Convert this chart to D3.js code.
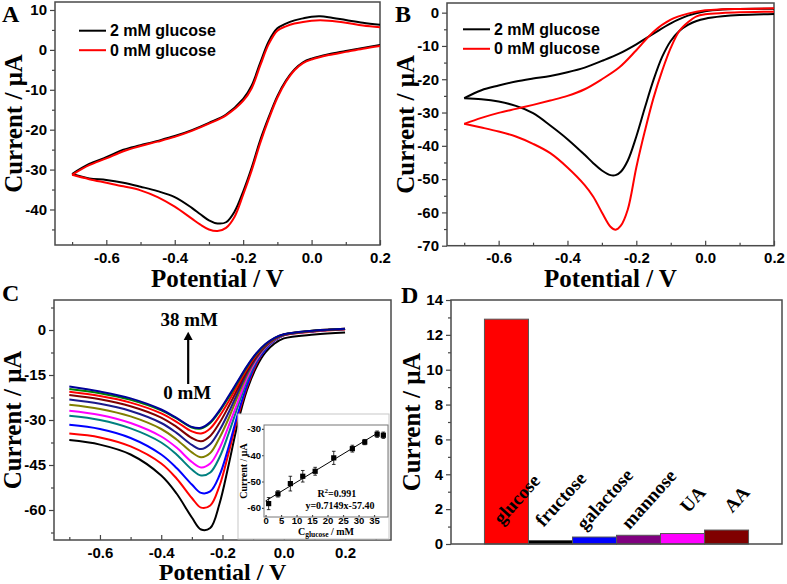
<!DOCTYPE html>
<html>
<head>
<meta charset="utf-8">
<script src="https://cdn.jsdelivr.net/npm/d3@7"></script>
<style>
body { margin: 0; background: #fff; }
svg { display: block; }
.tick text { font: bold 15px "Liberation Sans", Arial, sans-serif; fill: #000; }
.tick line { stroke: #444; stroke-width: 1.2; }
.ttl { font: bold 25px "Liberation Serif", "Times New Roman", serif; }
.letter { font: bold 24px "Liberation Serif", "Times New Roman", serif; }
.leg { font: bold 16px "Liberation Sans", Arial, sans-serif; }
.ann { font: bold 19px "Liberation Serif", "Times New Roman", serif; }
.bar-lab { font: bold 19px "Liberation Serif", "Times New Roman", serif; }
.inset .tick text { font: bold 9.5px "Liberation Sans", Arial, sans-serif; }
.small { font: bold 10px "Liberation Serif", "Times New Roman", serif; }
</style>
</head>
<body>
<svg id="fig" width="787" height="584"></svg>
<script>
// ---------- panel A : CV, 2 mM vs 0 mM glucose ----------
var aFwdV   = [-0.7,-0.65,-0.6,-0.55,-0.5,-0.45,-0.4,-0.35,-0.3,-0.25,-0.2,-0.175,-0.15,-0.125,-0.1,-0.075,-0.05,-0.025,0,0.025,0.05,0.1,0.15,0.2];
var aFwd2mM = [-31.1,-28.6,-26.9,-25.0,-23.9,-22.8,-21.6,-20.1,-18.3,-16.2,-12.3,-8.9,-3.2,2.2,5.4,6.6,7.4,7.9,8.3,8.4,8.2,7.5,6.8,6.3];
var aFwd0mM = [-31.3,-28.9,-27.2,-25.4,-24.1,-23.0,-21.8,-20.3,-18.5,-16.4,-12.8,-9.6,-3.9,1.5,4.8,5.9,6.6,7.0,7.3,7.4,7.3,6.8,6.1,5.7];
var aRevV   = [0.2,0.15,0.1,0.05,0,-0.025,-0.05,-0.075,-0.1,-0.125,-0.15,-0.175,-0.2,-0.225,-0.25,-0.275,-0.3,-0.325,-0.35,-0.4,-0.45,-0.5,-0.55,-0.6,-0.65,-0.7];
var aRev2mM = [1.25,0.5,-0.3,-1.1,-2.2,-3.1,-4.9,-7.7,-11.6,-16.8,-22.6,-29.5,-35.5,-40.5,-43.2,-43.5,-42.7,-41.2,-39.6,-36.9,-35.4,-34.3,-33.3,-32.6,-32.2,-31.1];
var aRev0mM = [1.0,0.3,-0.5,-1.3,-2.4,-3.3,-5.1,-8.0,-12.0,-17.3,-23.3,-30.2,-36.3,-41.8,-44.6,-45.4,-45.0,-43.8,-42.3,-39.3,-36.9,-35.2,-34.2,-33.3,-32.4,-31.3];

// ---------- panel B : CV ----------
var bFwdV   = [-0.7,-0.65,-0.6,-0.55,-0.5,-0.45,-0.4,-0.35,-0.3,-0.25,-0.2,-0.15,-0.1,-0.05,0,0.05,0.1,0.2];
var bFwd2mM = [-25.7,-23.3,-21.9,-20.7,-19.8,-19.0,-17.9,-16.5,-14.5,-12.3,-9.5,-6.3,-3.2,-0.9,0.4,0.95,1.1,1.2];
var bFwd0mM = [-33.4,-31.6,-30.1,-28.9,-27.7,-26.4,-25.0,-23.0,-20.0,-16.5,-11.3,-5.7,-2.1,-0.3,0.7,1.0,1.1,1.3];
var bRevV   = [0.2,0.1,0.05,0,-0.025,-0.05,-0.075,-0.1,-0.125,-0.15,-0.175,-0.2,-0.225,-0.245,-0.26,-0.275,-0.3,-0.325,-0.35,-0.4,-0.45,-0.5,-0.55,-0.6,-0.65,-0.7];
var bRev2mM = [-0.4,-0.7,-1.1,-1.8,-2.5,-3.7,-5.5,-8.5,-13.3,-20.2,-28.5,-37.2,-44.5,-47.8,-48.8,-48.8,-47.4,-45.2,-42.7,-38.0,-33.9,-30.2,-28.0,-26.7,-26.0,-25.7];
var bRev0mM = [0.3,0.1,-0.1,-0.5,-1.1,-2.9,-5.5,-10.6,-17.5,-25.6,-35.5,-46.5,-59.2,-64.0,-65.2,-64.3,-60.0,-55.3,-51.8,-46.5,-42.2,-39.4,-37.2,-35.7,-34.5,-33.4];

// ---------- panel C : LSV at increasing glucose ----------
var cConc  = [0,1,4,8,12,16,22,28,32,36,38];
var cColor = ["#000000","#ff0000","#0000ff","#008080","#ff00ff","#808000","#1a1a8c","#800000","#ff0000","#008000","#000099"];
var cV     = [-0.7,-0.6,-0.5,-0.4,-0.35,-0.3,-0.27,-0.24,-0.21,-0.18,-0.15,-0.12,-0.09,-0.06,-0.03,0,0.1,0.2];
var cI = [
  [-36.7,-38.2,-41.5,-48.5,-54.5,-62.5,-66.5,-66.0,-58.0,-45.0,-31.0,-20.0,-12.5,-7.5,-4.5,-2.8,-1.5,-0.8],
  [-34.5,-35.8,-38.8,-44.5,-49.5,-56.0,-59.2,-58.5,-52.0,-41.0,-29.0,-19.0,-11.5,-6.5,-3.5,-1.8,-0.5,0.2],
  [-31.6,-33.0,-36.0,-41.5,-46.0,-51.5,-54.3,-53.8,-48.5,-39.0,-28.0,-18.5,-11.0,-6.5,-3.5,-1.8,-0.4,0.3],
  [-28.6,-30.0,-32.8,-37.5,-41.5,-46.5,-48.5,-47.5,-42.5,-34.5,-25.5,-17.0,-10.5,-6.0,-3.3,-1.7,-0.4,0.3],
  [-26.9,-28.3,-31.0,-35.5,-39.2,-44.0,-45.8,-44.5,-39.5,-32.0,-24.0,-16.0,-10.0,-5.8,-3.2,-1.7,-0.4,0.3],
  [-24.9,-26.3,-28.8,-33.0,-36.5,-40.8,-42.4,-41.0,-36.0,-29.5,-22.0,-15.0,-9.5,-5.6,-3.1,-1.6,-0.3,0.3],
  [-23.2,-24.6,-27.0,-31.0,-34.3,-38.3,-39.7,-38.0,-33.5,-27.5,-20.8,-14.3,-9.2,-5.4,-3.0,-1.6,-0.3,0.3],
  [-21.7,-23.1,-25.4,-29.2,-32.3,-36.0,-37.1,-35.3,-31.0,-25.5,-19.5,-13.6,-8.8,-5.2,-2.9,-1.6,-0.3,0.3],
  [-20.6,-22.0,-24.2,-27.8,-30.6,-33.8,-34.5,-32.8,-28.8,-23.8,-18.3,-12.9,-8.4,-5.0,-2.8,-1.5,-0.2,0.4],
  [-19.7,-21.1,-23.3,-26.8,-29.5,-32.5,-32.8,-31.0,-27.2,-22.5,-17.4,-12.3,-8.0,-4.8,-2.7,-1.5,-0.2,0.4],
  [-18.8,-20.5,-22.8,-26.5,-29.3,-32.3,-32.6,-30.7,-26.8,-22.0,-17.0,-12.0,-7.8,-4.7,-2.6,-1.4,-0.2,0.4]
];
// inset: calibration
var insetConc = [1,4,8,12,16,22,28,32,36,38];
var insetCur  = [-58.4,-54.7,-50.8,-48.0,-46.1,-41.0,-37.5,-35.0,-32.0,-32.4];
var insetErr  = [2.3,1.2,2.8,2.2,1.5,2.5,1.3,1.0,1.2,1.2];
var fitSlope = 0.7149, fitIntercept = -57.40;

// ---------- panel D : selectivity ----------
var dNames  = ["glucose","fructose","galactose","mannose","UA","AA"];
var dValues = [12.9,0.2,0.4,0.5,0.6,0.8];
var dColors = ["#ff0000","#000000","#0000ff","#800080","#ff00ff","#800000"];

var svg = d3.select("#fig");
var frameCol = "#4a4a4a";
var defs = svg.append("defs");

function zip(v, i) { return v.map(function(d, k) { return [d, i[k]]; }); }

function clipFor(id, x, y) {
  defs.append("clipPath").attr("id", id).append("rect")
    .attr("x", x.range()[0]).attr("y", y.range()[1])
    .attr("width", x.range()[1] - x.range()[0]).attr("height", y.range()[0] - y.range()[1]);
  return "url(#" + id + ")";
}

function frame(x, y, o) {
  var g = svg.append("g");
  var x0 = x.range()[0], x1 = x.range()[1], y0 = y.range()[0], y1 = y.range()[1];
  g.append("g").attr("transform", "translate(" + x0 + ",0)")
    .call(d3.axisLeft(y).tickValues(o.yMinor).tickSize(3).tickFormat(""))
    .call(function(s) { s.select(".domain").remove(); });
  g.append("g").attr("transform", "translate(0," + y0 + ")")
    .call(d3.axisBottom(x).tickValues(o.xMinor).tickSize(-3).tickFormat(""))
    .call(function(s) { s.select(".domain").remove(); });
  g.append("g").attr("transform", "translate(" + x0 + ",0)")
    .call(d3.axisLeft(y).tickValues(o.yTicks).tickSize(5).tickPadding(o.yPad || 3)
      .tickFormat(function(d) { return String(d); }))
    .call(function(s) { s.select(".domain").remove(); });
  g.append("g").attr("transform", "translate(0," + y0 + ")")
    .call(d3.axisBottom(x).tickValues(o.xTicks).tickSizeInner(-5).tickSizeOuter(0)
      .tickFormat(function(d) { return d.toFixed(1); }))
    .call(function(s) { s.select(".domain").remove(); s.selectAll(".tick text").attr("y", o.xPad); });
  g.append("rect").attr("x", x0).attr("y", y1).attr("width", x1 - x0).attr("height", y0 - y1)
    .attr("fill", "none").attr("stroke", frameCol).attr("stroke-width", 1.5);
  g.append("text").attr("class", "ttl").attr("text-anchor", "middle")
    .style("font-size", (o.xTitleSize || 25) + "px")
    .attr("x", (x0 + x1) / 2).attr("y", o.xTitleY).text("Potential / V");
  g.append("text").attr("class", "ttl").attr("text-anchor", "middle")
    .attr("transform", "translate(" + o.yTitleX + "," + (y0 + y1) / 2 + ") rotate(-90)")
    .text("Current / \u03bcA");
  return g;
}

var line = function(x, y) {
  return d3.line().x(function(d) { return x(d[0]); }).y(function(d) { return y(d[1]); })
    .curve(d3.curveCatmullRom.alpha(0.5));
};

function branch(l, pts, col, clip) {
  svg.append("path").attr("d", l(pts)).attr("fill", "none").attr("stroke", col)
    .attr("stroke-width", 2).attr("stroke-linejoin", "round").attr("clip-path", clip);
}

function legend(x0, yTop, labels, colors) {
  labels.forEach(function(t, k) {
    var yy = yTop + k * 19.5;
    svg.append("line").attr("x1", x0).attr("x2", x0 + 27).attr("y1", yy).attr("y2", yy)
      .attr("stroke", colors[k]).attr("stroke-width", 2);
    svg.append("text").attr("class", "leg").attr("x", x0 + 31).attr("y", yy + 5.5).text(t);
  });
}

// ---------------- A ----------------
(function() {
  var x = d3.scaleLinear().domain([-0.75, 0.2]).range([55, 380]);
  var y = d3.scaleLinear().domain([-48.9, 12]).range([245, 2]);
  frame(x, y, { yTicks: [10,0,-10,-20,-30,-40], yMinor: [5,-5,-15,-25,-35,-45],
    xTicks: [-0.6,-0.4,-0.2,0,0.2], xMinor: [-0.7,-0.5,-0.3,-0.1,0.1],
    xPad: 7, xTitleY: 287, yTitleX: 22 });
  var l = line(x, y), clip = clipFor("clipA", x, y);
  branch(l, zip(aFwdV, aFwd2mM), "#000", clip);
  branch(l, zip(aRevV, aRev2mM), "#000", clip);
  branch(l, zip(aFwdV, aFwd0mM), "#ff0000", clip);
  branch(l, zip(aRevV, aRev0mM), "#ff0000", clip);
  legend(79, 30.7, ["2 mM glucose", "0 mM glucose"], ["#000", "#ff0000"]);
  svg.append("text").attr("class", "letter").attr("x", 2).attr("y", 22).text("A");
})();

// ---------------- B ----------------
(function() {
  var x = d3.scaleLinear().domain([-0.75, 0.2]).range([447, 774]);
  var y = d3.scaleLinear().domain([-70, 2.9]).range([245.7, 3]);
  frame(x, y, { yTicks: [0,-10,-20,-30,-40,-50,-60,-70], yMinor: [-5,-15,-25,-35,-45,-55,-65],
    xTicks: [-0.6,-0.4,-0.2,0,0.2], xMinor: [-0.7,-0.5,-0.3,-0.1,0.1],
    xPad: 7, xTitleY: 287, yTitleX: 414 });
  var l = line(x, y), clip = clipFor("clipB", x, y);
  branch(l, zip(bFwdV, bFwd2mM), "#000", clip);
  branch(l, zip(bRevV, bRev2mM), "#000", clip);
  branch(l, zip(bFwdV, bFwd0mM), "#ff0000", clip);
  branch(l, zip(bRevV, bRev0mM), "#ff0000", clip);
  legend(463, 29.3, ["2 mM glucose", "0 mM glucose"], ["#000", "#ff0000"]);
  svg.append("text").attr("class", "letter").attr("x", 395).attr("y", 22).text("B");
})();

// ---------------- C ----------------
(function() {
  var x = d3.scaleLinear().domain([-0.75, 0.35]).range([54, 391]);
  var y = d3.scaleLinear().domain([-70, 10]).range([540, 300]);
  frame(x, y, { yTicks: [0,-15,-30,-45,-60], yMinor: [7.5,-7.5,-22.5,-37.5,-52.5,-67.5],
    xTicks: [-0.6,-0.4,-0.2,0,0.2], xMinor: [-0.7,-0.5,-0.3,-0.1,0.1,0.3],
    xPad: 7, xTitleY: 580, xTitleSize: 24, yTitleX: 21 });
  var l = line(x, y);
  cI.forEach(function(arr, k) {
    svg.append("path").attr("d", l(zip(cV, arr))).attr("fill", "none")
      .attr("stroke", cColor[k]).attr("stroke-width", 2);
  });
  // arrow annotation
  var ax = x(-0.312);
  svg.append("line").attr("x1", ax).attr("x2", ax).attr("y1", y(-18)).attr("y2", y(-2.5))
    .attr("stroke", "#000").attr("stroke-width", 2.2);
  svg.append("path").attr("d", "M" + (ax - 4.5) + "," + y(-3.3) + "L" + ax + "," + y(-0.6) + "L" + (ax + 4.5) + "," + y(-3.3) + "Z")
    .attr("fill", "#000");
  svg.append("text").attr("class", "ann").attr("text-anchor", "middle").attr("x", ax + 1).attr("y", y(1.4)).text("38 mM");
  svg.append("text").attr("class", "ann").attr("text-anchor", "middle").attr("x", ax - 1).attr("y", y(-22.9)).text("0 mM");
  svg.append("text").attr("class", "letter").attr("x", 2).attr("y", 301).text("C");

  // inset
  var xi = d3.scaleLinear().domain([-0.5, 39.5]).range([264, 388]);
  var yi = d3.scaleLinear().domain([-63.5, -28.5]).range([517, 425]);
  var gi = svg.append("g").attr("class", "inset");
  gi.append("rect").attr("x", 238).attr("y", 414).attr("width", 151).attr("height", 125)
    .attr("fill", "#fff").attr("stroke", "#c8c8c8").attr("stroke-width", 1);
  gi.append("g").attr("transform", "translate(264,0)")
    .call(d3.axisLeft(yi).tickValues([-30,-40,-50,-60]).tickSize(2).tickPadding(1).tickFormat(String))
    .call(function(s) { s.select(".domain").remove(); });
  gi.append("g").attr("transform", "translate(0,517)")
    .call(d3.axisBottom(xi).tickValues([0,5,10,15,20,25,30,35]).tickSizeInner(-2).tickSizeOuter(0).tickPadding(0).tickFormat(String))
    .call(function(s) { s.select(".domain").remove(); s.selectAll(".tick text").attr("y", 0.5); });
  gi.append("rect").attr("x", 264).attr("y", 425).attr("width", 124).attr("height", 92)
    .attr("fill", "none").attr("stroke", "#777").attr("stroke-width", 1);
  gi.append("line").attr("x1", xi(0)).attr("x2", xi(36)).attr("y1", yi(fitIntercept)).attr("y2", yi(fitIntercept + fitSlope * 36))
    .attr("stroke", "#000").attr("stroke-width", 1);
  insetConc.forEach(function(c, k) {
    var cx = xi(c), cy = yi(insetCur[k]);
    gi.append("line").attr("x1", cx).attr("x2", cx).attr("y1", yi(insetCur[k] - insetErr[k])).attr("y2", yi(insetCur[k] + insetErr[k]))
      .attr("stroke", "#000").attr("stroke-width", 0.8);
    [insetCur[k] - insetErr[k], insetCur[k] + insetErr[k]].forEach(function(v) {
      gi.append("line").attr("x1", cx - 1.8).attr("x2", cx + 1.8).attr("y1", yi(v)).attr("y2", yi(v))
        .attr("stroke", "#000").attr("stroke-width", 0.8);
    });
    gi.append("rect").attr("x", cx - 2.6).attr("y", cy - 2.6).attr("width", 5.2).attr("height", 5.2).attr("fill", "#000");
  });
  var t1 = gi.append("text").attr("class", "small").attr("text-anchor", "middle").attr("x", xi(23)).attr("y", yi(-56)).text("R");
  t1.append("tspan").attr("dy", -4).attr("font-size", "7px").text("2");
  t1.append("tspan").attr("dy", 4).text("=0.991");
  gi.append("text").attr("class", "small").attr("text-anchor", "middle").attr("x", xi(24)).attr("y", yi(-60.5)).text("y=0.7149x-57.40");
  var t2 = gi.append("text").attr("class", "small").attr("text-anchor", "middle").attr("x", 326).attr("y", 535).text("C");
  t2.append("tspan").attr("dy", 1.5).attr("font-size", "7.5px").text("glucose");
  t2.append("tspan").attr("dy", -1.5).text(" / mM");
  gi.append("text").attr("class", "small").attr("font-size", "9.5px").attr("text-anchor", "middle")
    .attr("transform", "translate(247,471) rotate(-90)").text("Current / \u03bcA");
})();

// ---------------- D ----------------
(function() {
  var x = d3.scaleBand().domain(dNames).range([451, 782]).paddingInner(0).paddingOuter(0.76);
  var y = d3.scaleLinear().domain([0, 14]).range([544, 300]);
  var g = svg.append("g");
  g.append("g").attr("transform", "translate(451,0)")
    .call(d3.axisLeft(y).tickValues([1,3,5,7,9,11,13]).tickSize(3).tickFormat(""))
    .call(function(s) { s.select(".domain").remove(); });
  g.append("g").attr("transform", "translate(451,0)")
    .call(d3.axisLeft(y).tickValues([0,2,4,6,8,10,12,14]).tickSize(5).tickPadding(3).tickFormat(String))
    .call(function(s) { s.select(".domain").remove(); });
  g.selectAll(".bar").data(dNames).enter().append("rect")
    .attr("x", function(d) { return x(d); })
    .attr("y", function(d, k) { return y(dValues[k]); })
    .attr("width", x.bandwidth())
    .attr("height", function(d, k) { return y(0) - y(dValues[k]); })
    .attr("fill", function(d, k) { return dColors[k]; })
    .attr("stroke", "#555").attr("stroke-width", 1);
  g.append("rect").attr("x", 451).attr("y", 300).attr("width", 331).attr("height", 244)
    .attr("fill", "none").attr("stroke", frameCol).attr("stroke-width", 1.5);
  g.selectAll(".bar-lab").data(dNames).enter().append("text").attr("class", "bar-lab")
    .attr("text-anchor", "middle")
    .attr("transform", function(d) { return "translate(" + (x(d) + x.bandwidth() / 2 + 10) + ",499) rotate(-48)"; })
    .attr("dy", "0.35em")
    .text(function(d) { return d; });
  g.append("text").attr("class", "ttl").attr("text-anchor", "middle")
    .attr("transform", "translate(420,422) rotate(-90)").text("Current / \u03bcA");
  svg.append("text").attr("class", "letter").attr("x", 401).attr("y", 303).text("D");
})();
</script>
</body>
</html>
